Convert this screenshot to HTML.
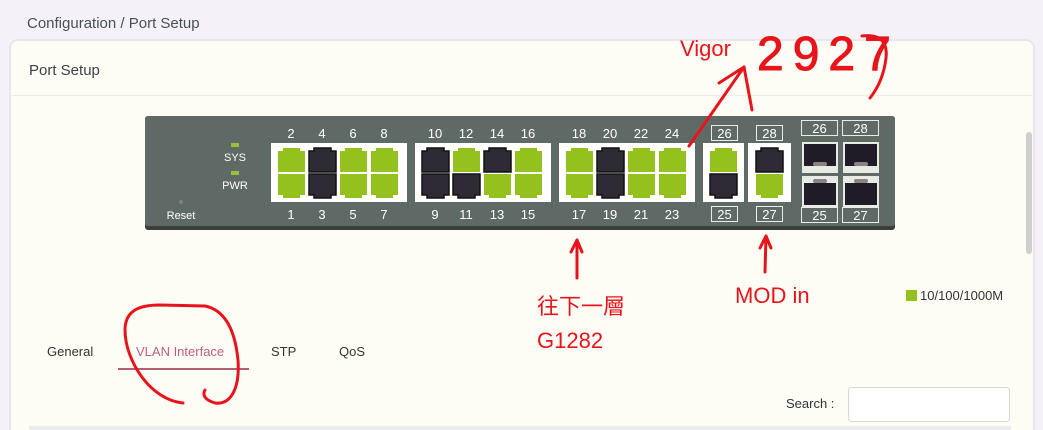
<!DOCTYPE html>
<html><head><meta charset="utf-8"><style>
html,body{margin:0;padding:0;background:#f4f2f8;}
svg{display:block;font-family:"Liberation Sans","Noto Sans CJK TC",sans-serif;}
</style></head><body>
<svg width="1043" height="430" viewBox="0 0 1043 430" xmlns="http://www.w3.org/2000/svg">
<defs>
<path id="t" d="M5 0H22V3H27V24H0V3H5Z"/>
<path id="b" d="M0 0H27V21H22V24H5V21H0Z"/>
</defs>
<rect width="1043" height="430" fill="#f4f2f8"/>
<text x="27" y="28" font-size="15" fill="#4a4f55">Configuration /  Port Setup</text>
<rect x="10" y="40" width="1024" height="400" rx="8" fill="#fdfdf6" stroke="#e8e6ef" stroke-width="2"/>
<text x="29" y="75" font-size="15" fill="#3d4247">Port Setup</text>
<line x1="12" y1="95.5" x2="1032" y2="95.5" stroke="#ecece6"/>
<rect x="1026" y="132" width="6" height="122" rx="3" fill="#cfd0cb"/>

<rect x="145" y="116" width="750" height="114" rx="3" fill="#3a3f3c"/>
<rect x="145" y="116" width="750" height="110" rx="3" fill="#5f6a66"/>
<rect x="231" y="143" width="8" height="4" fill="#9bbf3a"/>
<rect x="231" y="171" width="8" height="4" fill="#9bbf3a"/>
<text x="235" y="161" font-size="11" fill="#fff" text-anchor="middle">SYS</text>
<text x="235" y="189" font-size="11" fill="#fff" text-anchor="middle">PWR</text>
<circle cx="181" cy="202" r="2" fill="#7a8380"/>
<text x="181" y="219" font-size="11" fill="#fff" text-anchor="middle">Reset</text>

<g fill="#fff">
<rect x="271" y="143" width="136" height="59"/>
<rect x="415" y="143" width="136" height="59"/>
<rect x="559" y="143" width="136" height="59"/>
<rect x="703" y="143" width="41" height="59"/>
<rect x="748" y="143" width="43" height="59"/>
</g>
<g stroke="#111" stroke-width="0">
<use href="#t" x="278" y="148" fill="#95c11f"/><use href="#t" x="309" y="148" fill="#2e2b35" stroke-width="1.5"/><use href="#t" x="340" y="148" fill="#95c11f"/><use href="#t" x="371" y="148" fill="#95c11f"/>
<use href="#b" x="278" y="174" fill="#95c11f"/><use href="#b" x="309" y="174" fill="#2e2b35" stroke-width="1.5"/><use href="#b" x="340" y="174" fill="#95c11f"/><use href="#b" x="371" y="174" fill="#95c11f"/>
<use href="#t" x="422" y="148" fill="#2e2b35" stroke-width="1.5"/><use href="#t" x="453" y="148" fill="#95c11f"/><use href="#t" x="484" y="148" fill="#2e2b35" stroke-width="1.5"/><use href="#t" x="515" y="148" fill="#95c11f"/>
<use href="#b" x="422" y="174" fill="#2e2b35" stroke-width="1.5"/><use href="#b" x="453" y="174" fill="#2e2b35" stroke-width="1.5"/><use href="#b" x="484" y="174" fill="#95c11f"/><use href="#b" x="515" y="174" fill="#95c11f"/>
<use href="#t" x="566" y="148" fill="#95c11f"/><use href="#t" x="597" y="148" fill="#2e2b35" stroke-width="1.5"/><use href="#t" x="628" y="148" fill="#95c11f"/><use href="#t" x="659" y="148" fill="#95c11f"/>
<use href="#b" x="566" y="174" fill="#95c11f"/><use href="#b" x="597" y="174" fill="#2e2b35" stroke-width="1.5"/><use href="#b" x="628" y="174" fill="#95c11f"/><use href="#b" x="659" y="174" fill="#95c11f"/>
<use href="#t" x="710" y="148" fill="#95c11f"/><use href="#b" x="710" y="174" fill="#2e2b35" stroke-width="1.5"/>
<use href="#t" x="756" y="148" fill="#2e2b35" stroke-width="1.5"/><use href="#b" x="756" y="174" fill="#95c11f"/>
</g>
<g font-size="13" fill="#fff" text-anchor="middle">
<text x="291" y="138">2</text><text x="322" y="138">4</text><text x="353" y="138">6</text><text x="384" y="138">8</text>
<text x="291" y="219">1</text><text x="322" y="219">3</text><text x="353" y="219">5</text><text x="384" y="219">7</text>
<text x="435" y="138">10</text><text x="466" y="138">12</text><text x="497" y="138">14</text><text x="528" y="138">16</text>
<text x="435" y="219">9</text><text x="466" y="219">11</text><text x="497" y="219">13</text><text x="528" y="219">15</text>
<text x="579" y="138">18</text><text x="610" y="138">20</text><text x="641" y="138">22</text><text x="672" y="138">24</text>
<text x="579" y="219">17</text><text x="610" y="219">19</text><text x="641" y="219">21</text><text x="672" y="219">23</text>
</g>
<g fill="none" stroke="#e8ece8" stroke-width="1">
<rect x="711.5" y="125.5" width="26" height="15"/><rect x="756.5" y="125.5" width="26" height="15"/>
<rect x="711.5" y="206.5" width="26" height="15"/><rect x="756.5" y="206.5" width="26" height="15"/>
<rect x="801.5" y="120.5" width="36" height="15"/><rect x="842.5" y="120.5" width="36" height="15"/>
<rect x="801.5" y="207.5" width="36" height="15"/><rect x="842.5" y="207.5" width="36" height="15"/>
</g>
<g font-size="13" fill="#fff" text-anchor="middle">
<text x="724.5" y="138">26</text><text x="769.5" y="138">28</text>
<text x="724.5" y="219">25</text><text x="769.5" y="219">27</text>
<text x="819.5" y="133">26</text><text x="860.5" y="133">28</text>
<text x="819.5" y="220">25</text><text x="860.5" y="220">27</text>
</g>
<g>
<rect x="802" y="142" width="36" height="31" fill="#e8ebe3"/><rect x="804" y="144" width="32" height="22" fill="#1f1c27"/><rect x="813" y="162" width="14" height="4" rx="2" fill="#8a8285"/>
<rect x="843" y="142" width="36" height="31" fill="#e8ebe3"/><rect x="845" y="144" width="32" height="22" fill="#1f1c27"/><rect x="854" y="162" width="14" height="4" rx="2" fill="#8a8285"/>
<rect x="802" y="176" width="36" height="31" fill="#e8ebe3"/><rect x="804" y="183" width="32" height="22" fill="#1f1c27"/><rect x="813" y="179" width="14" height="4" rx="2" fill="#8a8285"/>
<rect x="843" y="176" width="36" height="31" fill="#e8ebe3"/><rect x="845" y="183" width="32" height="22" fill="#1f1c27"/><rect x="854" y="179" width="14" height="4" rx="2" fill="#8a8285"/>
</g>

<rect x="906" y="290" width="11" height="11" fill="#95c11f"/>
<text x="920" y="300" font-size="13" fill="#333">10/100/1000M</text>

<g font-size="13">
<text x="47" y="356" fill="#333">General</text>
<text x="136" y="356" fill="#c0607a">VLAN Interface</text>
<text x="271" y="356" fill="#333">STP</text>
<text x="339" y="356" fill="#333">QoS</text>
</g>
<rect x="118" y="368" width="131" height="2" fill="#b06070"/>
<text x="786" y="408" font-size="13" fill="#333">Search :</text>
<rect x="848.5" y="387.5" width="161" height="34" rx="3" fill="#fff" stroke="#d8d8d8"/>
<rect x="29" y="426" width="982" height="4" fill="#e9eeec"/>

<g fill="#e8141c" font-size="22">
<text x="680" y="56">Vigor</text>
<text x="735" y="303">MOD in</text>
<text x="537" y="314" font-family="'Noto Sans CJK TC','Liberation Sans',sans-serif">往下一層</text>
<text x="537" y="348">G1282</text>
<text x="757" y="70" font-size="48" letter-spacing="9" stroke="#e8141c" stroke-width="1">2927</text>
</g>
<g fill="none" stroke="#e8141c" stroke-width="3" stroke-linecap="round" stroke-linejoin="round">
<path d="M689 146 L744 67"/>
<path d="M719 83 L744 67 L752 110"/>
<path d="M862 36 C878 34 888 40 886 58 C884 75 878 88 870 98"/>
<path d="M577 278 L577 240 M571 252 L577 240 L582 252"/>
<path d="M765 272 L766 236 M760 248 L766 236 L771 248"/>
<path d="M183 403 C150 400 125 360 125 330 C125 310 140 305 160 305 L205 306 C225 310 235 330 238 360 C240 390 230 405 215 403 C205 400 202 395 205 390"/>
</g>
</svg>
</body></html>
